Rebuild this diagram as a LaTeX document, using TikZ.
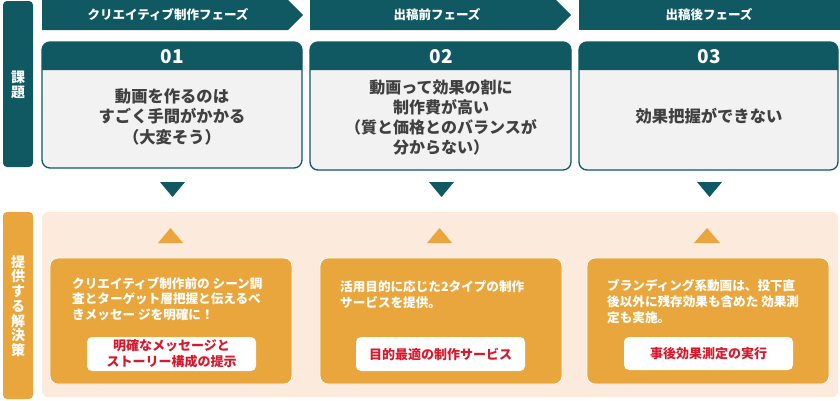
\documentclass[tikz,border=0pt]{standalone}
\usepackage{fontspec}
\setmainfont{Noto Sans CJK JP}
\definecolor{teal}{RGB}{16,89,98}
\definecolor{boxgray}{RGB}{242,242,242}
\definecolor{txtgray}{RGB}{64,64,64}
\definecolor{orng}{RGB}{233,166,61}
\definecolor{peach}{RGB}{252,234,220}
\definecolor{redtxt}{RGB}{214,26,44}
\tikzset{
  phase/.style={text=white,font=\fontsize{12.5}{15}\selectfont\bfseries,inner sep=0pt},
  numlabel/.style={text=white,font=\fontsize{19}{22}\selectfont\bfseries,inner sep=0pt},
  probtext/.style={text=txtgray,font=\fontsize{16.3}{20.5}\selectfont\bfseries,align=center,inner sep=0pt},
  sidetext/.style={text=white,font=\fontsize{14}{14.7}\selectfont\bfseries,align=center,inner sep=0pt},
  soltext/.style={text=white,font=\fontsize{12.6}{15.8}\selectfont\bfseries,align=left,inner sep=0pt,anchor=west},
  labelbox/.style={fill=white,rounded corners=5pt,draw=none},
  labeltext/.style={text=redtxt,font=\fontsize{13}{16}\selectfont\bfseries,align=center,inner sep=0pt},
  probbox/.style={fill=boxgray,draw=teal,line width=1.3pt,rounded corners=8pt},
  solbox/.style={fill=orng,draw=white,line width=0.8pt,rounded corners=8pt},
  tri/.style={fill=teal},
  utri/.style={fill=orng},
}
\begin{document}
\begin{tikzpicture}[x=1pt,y=-1pt]
\useasboundingbox (0,0) rectangle (840,400);
\fill[white] (0,0) rectangle (840,400);
% side bars
\fill[teal,rounded corners=4pt] (3,1) rectangle (33,167);
\node[sidetext] (s1) at (18,85) {課\\題};
\fill[orng,rounded corners=4pt] (3,212) rectangle (33,399);
\node[sidetext] (s2) at (18,306) {提\\供\\す\\る\\解\\決\\策};
% phase headers
\fill[teal] (42,0) -- (288,0) -- (303,15) -- (288,30) -- (42,30) -- cycle;
\node[phase] (ph1) at (168,15) {クリエイティブ制作フェーズ};
\fill[teal] (310,0) -- (556,0) -- (571,15) -- (556,30) -- (310,30) -- cycle;
\node[phase] (ph2) at (437,15) {出稿前フェーズ};
\fill[teal] (579,0) rectangle (840,30);
\node[phase] (ph3) at (709,15) {出稿後フェーズ};
% problem boxes
\draw[probbox] (42,42) rectangle (302,168);
\fill[teal] (42,70) {[rounded corners=8pt] -- (42,42) -- (302,42)} -- (302,70) -- cycle;
\node[numlabel] (n1) at (172,57) {01};
\node[probtext] (p1) at (172,116.5) {動画を作るのは\\すごく手間がかかる\\（大変そう）};
\draw[probbox] (310,42) rectangle (571,170);
\fill[teal] (310,70) {[rounded corners=8pt] -- (310,42) -- (571,42)} -- (571,70) -- cycle;
\node[numlabel] (n2) at (441,57) {02};
\node[probtext,font=\fontsize{16}{20}\selectfont\bfseries] (p2) at (441,118) {動画って効果の割に\\制作費が高い\\（質と価格とのバランスが\\分からない）};
\draw[probbox] (579,42) rectangle (838,170);
\fill[teal] (579,70) {[rounded corners=8pt] -- (579,42) -- (838,42)} -- (838,70) -- cycle;
\node[numlabel] (n3) at (709,57) {03};
\node[probtext] (p3) at (709,116) {効果把握ができない};
% down triangles
\fill[tri] (160,182) -- (185,182) -- (172.5,197) -- cycle;
\fill[tri] (429,182) -- (454,182) -- (441.5,197) -- cycle;
\fill[tri] (697,182) -- (722,182) -- (709.5,197) -- cycle;
% solution area
\fill[peach,rounded corners=6pt] (42,212) rectangle (838,397);
\fill[utri] (158,243) -- (183,243) -- (170.5,228) -- cycle;
\fill[utri] (427,243) -- (452,243) -- (439.5,228) -- cycle;
\fill[utri] (694,243) -- (720,243) -- (707,228) -- cycle;
% solution boxes
\draw[solbox] (50,258) rectangle (292,384);
\node[soltext] (t1) at (72,299) {クリエイティブ制作前の シーン調\\査とターゲット層把握と伝えるべ\\きメッセー ジを明確に！};
\fill[labelbox] (87,337) rectangle (256,371);
\node[labeltext] (l1) at (171.5,354) {明確なメッセージと\\ストーリー構成の提示};
\draw[solbox] (320,258) rectangle (562,384);
\node[soltext] (t2) at (340,294.5) {活用目的に応じた2タイプの制作\\サービスを提供。};
\fill[labelbox] (356,337) rectangle (525,371);
\node[labeltext] (l2) at (440.5,354) {目的最適の制作サービス};
\draw[solbox] (587,258) rectangle (829,384);
\node[soltext] (t3) at (607,301.5) {ブランディング系動画は、投下直\\後以外に残存効果も含めた 効果測\\定も実施。};
\fill[labelbox] (624,337) rectangle (793,370);
\node[labeltext] (l3) at (708.5,353.5) {事後効果測定の実行};
\end{tikzpicture}
\end{document}
